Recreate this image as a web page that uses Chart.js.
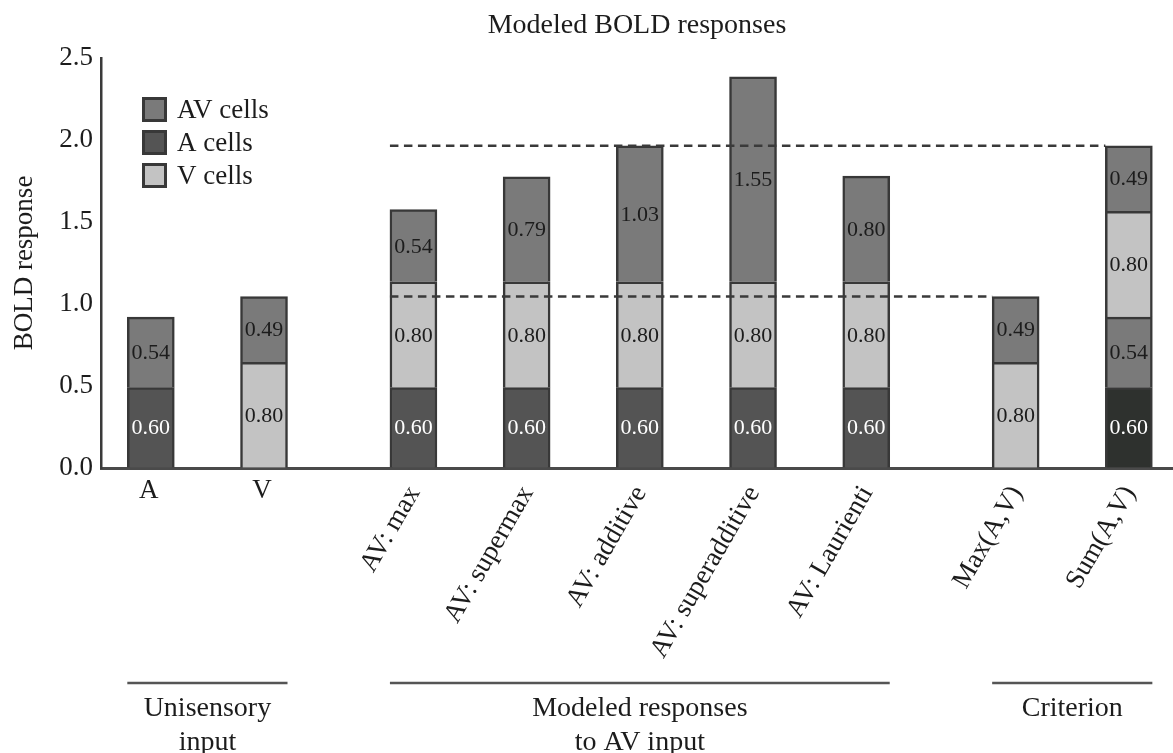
<!DOCTYPE html>
<html><head><meta charset="utf-8">
<script src="https://cdn.jsdelivr.net/npm/chart.js@4.4.1/dist/chart.umd.min.js"></script>
<style>html,body{margin:0;padding:0;background:#fff;}#wrap{width:1173px;height:753px;position:relative;}canvas{display:block;}</style>
</head><body><div id="wrap"><canvas id="c" width="1173" height="753"></canvas></div>
<script>
// ---------- data ----------
const categories = ['A','V','AV: max','AV: supermax','AV: additive','AV: superadditive','AV: Laurienti','Max(A,V)','Sum(A,V)'];
const groupOf    = [0,0,1,1,1,1,1,2,2];
const groupNames = [['Unisensory','input'],['Modeled responses','to AV input'],['Criterion']];
// segment heights as drawn (bottom -> top)
const aCells   = [0.49, null, 0.49, 0.49, 0.49, 0.49, 0.49, null, 0.49];
const avWithA  = [0.43, null, null, null, null, null, null, null, 0.43];
const vCells   = [null, 0.645, 0.645, 0.645, 0.645, 0.645, 0.645, 0.645, 0.645];
const avCells  = [null, 0.40, 0.44, 0.64, 0.83, 1.25, 0.645, 0.40, 0.40];
// printed segment labels
const aCellsText  = ['0.60','','0.60','0.60','0.60','0.60','0.60','','0.60'];
const avWithAText = ['0.54','','','','','','','','0.54'];
const vCellsText  = ['','0.80','0.80','0.80','0.80','0.80','0.80','0.80','0.80'];
const avCellsText = ['','0.49','0.54','0.79','1.03','1.55','0.80','0.49','0.49'];
const yTicks = [0, 0.5, 1.0, 1.5, 2.0, 2.5];
const legendOrder = ['AV cells','A cells','V cells'];
const chartTitle = 'Modeled BOLD responses';
const yTitle = 'BOLD response';

// ---------- styles ----------
const FONT = "'Liberation Serif', serif";
const C_AV = '#7a7a7a', C_A = '#545454', C_V = '#c3c3c3', C_A_SUM = '#2e312e', BORDER = '#383838', INK = '#1c1c1c';
const BAR_W = 47;
const GROUP_GAP = 0.32;
const xPos = categories.map((c, i) => i + groupOf[i] * GROUP_GAP);
const sumIdx = categories.indexOf('Sum(A,V)');
const maxIdx = categories.indexOf('Max(A,V)');
const mk = vals => vals.map((v, i) => ({x: xPos[i], y: v}));
const total = i => [aCells, avWithA, vCells, avCells].reduce((s, a) => s + (a[i] || 0), 0);

const datasets = [
  {label:'A cells', data: mk(aCells), backgroundColor: categories.map((c,i)=> i===sumIdx ? C_A_SUM : C_A), texts: aCellsText, textColor:'#ffffff'},
  {label:'AV cells', data: mk(avWithA), backgroundColor: C_AV, texts: avWithAText, textColor: INK},
  {label:'V cells', data: mk(vCells), backgroundColor: C_V, texts: vCellsText, textColor: INK},
  {label:'AV cells', data: mk(avCells), backgroundColor: C_AV, texts: avCellsText, textColor: INK}
];

const drawPlugin = {
  id: 'extras',
  afterDatasetsDraw(chart) {
    const ctx = chart.ctx, ca = chart.chartArea, xs = chart.scales.x, ys = chart.scales.y;
    // segment labels
    ctx.save();
    ctx.font = `22px ${FONT}`; ctx.textAlign = 'center'; ctx.textBaseline = 'middle';
    chart.data.datasets.forEach((ds, di) => {
      const meta = chart.getDatasetMeta(di);
      meta.data.forEach((el, i) => {
        const t = ds.texts[i];
        if (!t || ds.data[i].y == null) return;
        const p = el.getProps(['x','y','base'], true);
        ctx.fillStyle = ds.textColor;
        ctx.fillText(t, p.x, (p.y + p.base) / 2 + 1);
      });
    });
    // dashed reference lines
    const firstAV = groupOf.indexOf(1);
    const x0 = xs.getPixelForValue(xPos[firstAV]) - BAR_W/2;
    ctx.strokeStyle = '#3a3a3a'; ctx.lineWidth = 2.5; ctx.setLineDash([8.5, 5.5]);
    [[total(sumIdx), sumIdx], [total(maxIdx), maxIdx]].forEach(([lv, idx]) => {
      const y = ys.getPixelForValue(lv);
      const x1 = xs.getPixelForValue(xPos[idx]) - BAR_W/2;
      ctx.beginPath(); ctx.moveTo(x0, y); ctx.lineTo(x1, y); ctx.stroke();
    });
    ctx.restore();
  },
  afterDraw(chart) {
    const ctx = chart.ctx, ca = chart.chartArea, xs = chart.scales.x;
    ctx.save();
    // title
    ctx.fillStyle = INK; ctx.font = `28px ${FONT}`; ctx.textAlign = 'center'; ctx.textBaseline = 'alphabetic';
    ctx.fillText(chartTitle, (ca.left + ca.right) / 2, 33);
    // legend
    legendOrder.forEach((name, k) => {
      const ds = chart.data.datasets.find(d => d.label === name);
      const x = ca.left + 41, y = ca.top + 39 + k * 33;
      ctx.fillStyle = Array.isArray(ds.backgroundColor) ? ds.backgroundColor[0] : ds.backgroundColor;
      ctx.fillRect(x, y, 25, 25);
      ctx.lineWidth = 3; ctx.strokeStyle = BORDER; ctx.strokeRect(x + 1.5, y + 1.5, 22, 22);
      ctx.fillStyle = INK; ctx.font = `27px ${FONT}`; ctx.textAlign = 'left';
      ctx.fillText(name, x + 35, y + 21);
    });
    // x category labels
    ctx.font = `27px ${FONT}`;
    categories.forEach((c, i) => {
      const px = xs.getPixelForValue(xPos[i]);
      if (groupOf[i] === 0) {
        ctx.textAlign = 'center';
        ctx.fillText(c, px - 2, ca.bottom + 30);
      } else {
        ctx.save();
        ctx.translate(px + 7, ca.bottom + 24);
        ctx.rotate(-Math.PI / 3);
        ctx.textAlign = 'right';
        ctx.fillText(c, 0, 0);
        ctx.restore();
      }
    });
    // group brackets and names
    ctx.font = `28px ${FONT}`; ctx.textAlign = 'center';
    groupNames.forEach((lines, g) => {
      const idx = groupOf.map((v, i) => v === g ? i : -1).filter(i => i >= 0);
      const l = xs.getPixelForValue(xPos[idx[0]]) - BAR_W/2;
      const r = xs.getPixelForValue(xPos[idx[idx.length-1]]) + BAR_W/2;
      ctx.strokeStyle = '#555'; ctx.lineWidth = 2.5;
      ctx.beginPath(); ctx.moveTo(l, 683); ctx.lineTo(r, 683); ctx.stroke();
      ctx.fillStyle = INK;
      lines.forEach((t, k) => ctx.fillText(t, (l + r) / 2, 716 + k * 34));
    });
    ctx.restore();
  }
};

new Chart(document.getElementById('c'), {
  type: 'bar',
  data: { datasets },
  options: {
    responsive: false, animation: false,
    layout: { padding: { top: 58, left: 0, right: 0, bottom: 0 } },
    plugins: { legend: { display: false }, tooltip: { enabled: false }, title: { display: false } },
    datasets: { bar: { barThickness: BAR_W, borderWidth: 2.5, borderColor: BORDER, borderSkipped: 'start' } },
    scales: {
      x: {
        type: 'linear', stacked: true, offset: false,
        min: -0.44, max: 8.64 + 0.39,
        ticks: { display: false },
        grid: { drawOnChartArea: false, drawTicks: false },
        border: { display: true, color: '#4a4a4a', width: 3 },
        afterFit(s) { s.height = 753 - 468; }
      },
      y: {
        stacked: true, min: 0, max: 2.5,
        afterBuildTicks(s) { s.ticks = yTicks.map(v => ({value: v})); },
        ticks: { padding: 8, color: INK, font: { family: FONT, size: 27 }, callback: v => Number(v).toFixed(1) },
        grid: { drawOnChartArea: false, drawTicks: false },
        border: { display: true, color: '#3a3a3a', width: 2.5 },
        title: { display: true, text: yTitle, color: INK, font: { family: FONT, size: 27 }, padding: { top: 9, bottom: 0 } },
        afterFit(s) { s.width = 101; }
      }
    }
  },
  plugins: [drawPlugin]
});
</script></body></html>
